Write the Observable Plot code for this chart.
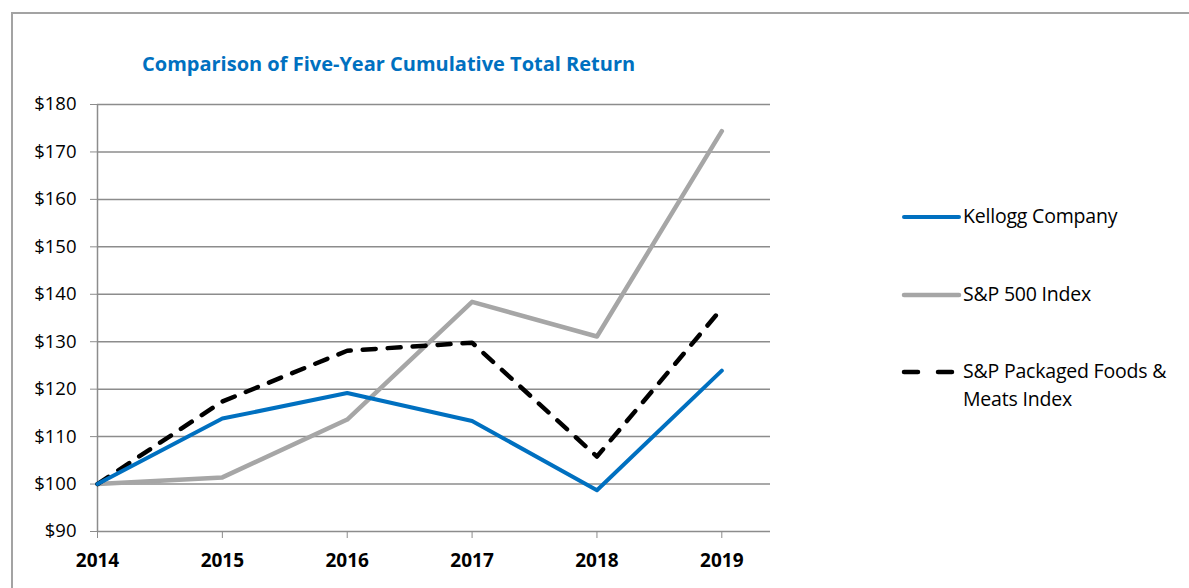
<!DOCTYPE html>
<html>
<head>
<meta charset="utf-8">
<script src="https://cdn.jsdelivr.net/npm/d3@7"></script>
<script src="https://cdn.jsdelivr.net/npm/@observablehq/plot@0.6"></script>
<style>
  body { margin: 0; background: #fff; font-family: "Open Sans", sans-serif; }
  #wrap { position: relative; width: 1189px; height: 588px; overflow: hidden; }
  #frame { position: absolute; left: 11px; top: 12px; width: 1200px; height: 600px; border: 2px solid #a3a3a3; box-sizing: border-box; }
  #title { position: absolute; left: 142px; top: 50px; font-size: 20px; font-weight: bold; color: #0070C0; white-space: nowrap; }
  #chart { position: absolute; left: 0; top: 0; }
  .leg { position: absolute; font-size: 19.5px; color: #000; line-height: 28px; white-space: nowrap; letter-spacing: -0.2px; }
  .sw { position: absolute; }
</style>
</head>
<body>
<div id="wrap">
  <div id="frame"></div>
  <div id="chart"></div>
  <div id="title">Comparison of Five-Year Cumulative Total Return</div>
  <div id="legend"></div>
</div>
<script>
const years = [2014, 2015, 2016, 2017, 2018, 2019];
const kellogg = [100, 113.8, 119.2, 113.3, 98.7, 123.9];
const sp500 = [100, 101.4, 113.6, 138.4, 131.1, 174.4];
const packaged = [100, 117.4, 128.1, 129.8, 105.8, 137.0];
const yTicks = [90, 100, 110, 120, 130, 140, 150, 160, 170, 180];
const seriesNames = ["Kellogg Company", "S&P 500 Index", "S&P Packaged Foods & Meats Index"];

const toRows = (vals, name) => years.map((y, i) => ({year: y, value: vals[i], series: name}));
const kRows = toRows(kellogg, seriesNames[0]);
const sRows = toRows(sp500, seriesNames[1]);
const pRows = toRows(packaged, seriesNames[2]);

const chart = Plot.plot({
  width: 1189,
  height: 588,
  marginLeft: 97,
  marginRight: 419,
  marginTop: 104,
  marginBottom: 57,
  style: {fontFamily: "'Open Sans', sans-serif", fontSize: "18px", color: "#000", background: "transparent"},
  x: {domain: [2014, 2019.39], ticks: years, tickFormat: d => String(d), label: null},
  y: {domain: [90, 180], ticks: yTicks, tickFormat: d => "$" + d, label: null},
  marks: [
    Plot.gridY(yTicks.filter(t => t > 90), {stroke: "#8c8c8c", strokeOpacity: 1, strokeWidth: 1.5}),
    Plot.ruleY([90], {stroke: "#8c8c8c", strokeWidth: 1.5}),
    Plot.ruleX([2014], {stroke: "#8c8c8c", strokeWidth: 1.5}),
    Plot.axisY({ticks: yTicks, tickFormat: d => "$" + d, tickSize: 7, tickPadding: 14, stroke: "#8c8c8c", fontSize: 18.5}),
    Plot.axisX({ticks: years, tickFormat: d => String(d), tickSize: 7, tickPadding: 15, stroke: "#8c8c8c", fontSize: 19, fontWeight: "bold"}),
    Plot.line(sRows, {x: "year", y: "value", stroke: "#A6A6A6", strokeWidth: 4.5}),
    Plot.line(pRows, {x: "year", y: "value", stroke: "#000", strokeWidth: 4.5, strokeDasharray: "13,12", strokeLinecap: "round"}),
    Plot.line(kRows, {x: "year", y: "value", stroke: "#0070C0", strokeWidth: 4})
  ]
});
document.getElementById("chart").appendChild(chart);

// legend
const legend = document.getElementById("legend");
const legItems = [
  {name: seriesNames[0], color: "#0070C0", dash: null, width: 4, top: 202},
  {name: seriesNames[1], color: "#A6A6A6", dash: null, width: 4.5, top: 280},
  {name: "S&P Packaged Foods &\nMeats Index", color: "#000", dash: "14,20", width: 4.5, top: 357}
];
legItems.forEach(it => {
  const svg = d3.create("svg").attr("class", "sw").attr("width", 64).attr("height", 12)
    .style("left", "900px").style("top", (it.top + 9) + "px");
  svg.append("line").attr("x1", 4).attr("x2", it.dash ? 52 : 59).attr("y1", 6).attr("y2", 6)
    .attr("stroke", it.color).attr("stroke-width", it.width).attr("stroke-linecap", "round")
    .attr("stroke-dasharray", it.dash);
  legend.appendChild(svg.node());
  const d = document.createElement("div");
  d.className = "leg";
  d.style.left = "963px";
  d.style.top = it.top + "px";
  d.innerHTML = it.name.split("\n").join("<br>").replace(/&(?!lt|gt|amp)/g, "&amp;");
  legend.appendChild(d);
});
</script>
</body>
</html>
